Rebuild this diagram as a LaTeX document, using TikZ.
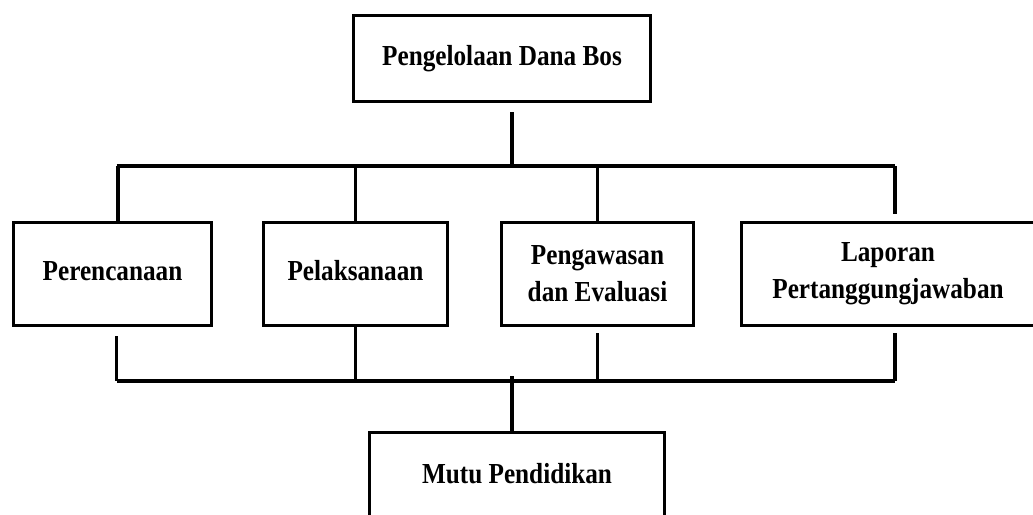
\documentclass[tikz,border=0pt]{standalone}
\usepackage{fontspec}
\newfontfamily\diagfont{Liberation Serif Bold}[FakeStretch=0.87]
\begin{document}
\begin{tikzpicture}[x=1pt,y=-1pt,
  box/.style={draw=black, line width=3.4pt, inner sep=0pt, minimum height=103pt,
    font=\diagfont\fontsize{29}{37}\selectfont, align=center},
  oneline/.style={text height=19pt, text depth=6pt},
  conn/.style={draw=black, line width=3.8pt}]
\useasboundingbox (0,0) rectangle (1033,514);
\fill[white] (0,0) rectangle (1033,514);
% boxes
\node[box, oneline, minimum width=297pt, minimum height=86pt] (top) at (502,58.5) {Pengelolaan Dana Bos};
\node[box, oneline, minimum width=198pt] (per) at (112.5,274) {Perencanaan};
\node[box, oneline, minimum width=184pt] (pel) at (355.5,274) {Pelaksanaan};
\node[box, minimum width=192pt] (peng) at (597.5,274) {Pengawasan\\dan Evaluasi};
\node[box, minimum width=293pt] (lap) at (888,274) {Laporan\\Pertanggungjawaban};
\node[box, text height=19pt, text depth=21pt, minimum width=295pt] (mutu) at (517,484) {Mutu Pendidikan};
% junction coordinates
\coordinate (tstart) at (512,112);
\coordinate (tj) at (512,166);
\coordinate (tl) at (116.5,166);
\coordinate (tr) at (895,166);
\coordinate (bl) at (116.5,381);
\coordinate (br) at (895,381);
\coordinate (bj) at (512,381);
\coordinate (bstart) at (512,376);
% top connectors
\draw[conn] (tstart) -- (tj);
\draw[conn] (tl) -- (tr);
\draw[conn] (118,166) -- (per.north -| 118,0);
\draw[conn] (pel.north |- tj) -- (pel.north);
\draw[conn] (peng.north |- tj) -- (peng.north);
\draw[conn] (tr) -- (895,214);
% bottom connectors
\draw[conn] (116.5,336) -- (bl);
\draw[conn] (pel.south) -- (pel.south |- bl);
\draw[conn] (597.5,333) -- (peng.south |- bl);
\draw[conn] (895,333) -- (br);
\draw[conn] (bl) -- (br);
\draw[conn] (bstart) -- (mutu.north -| bj);
\end{tikzpicture}
\end{document}
